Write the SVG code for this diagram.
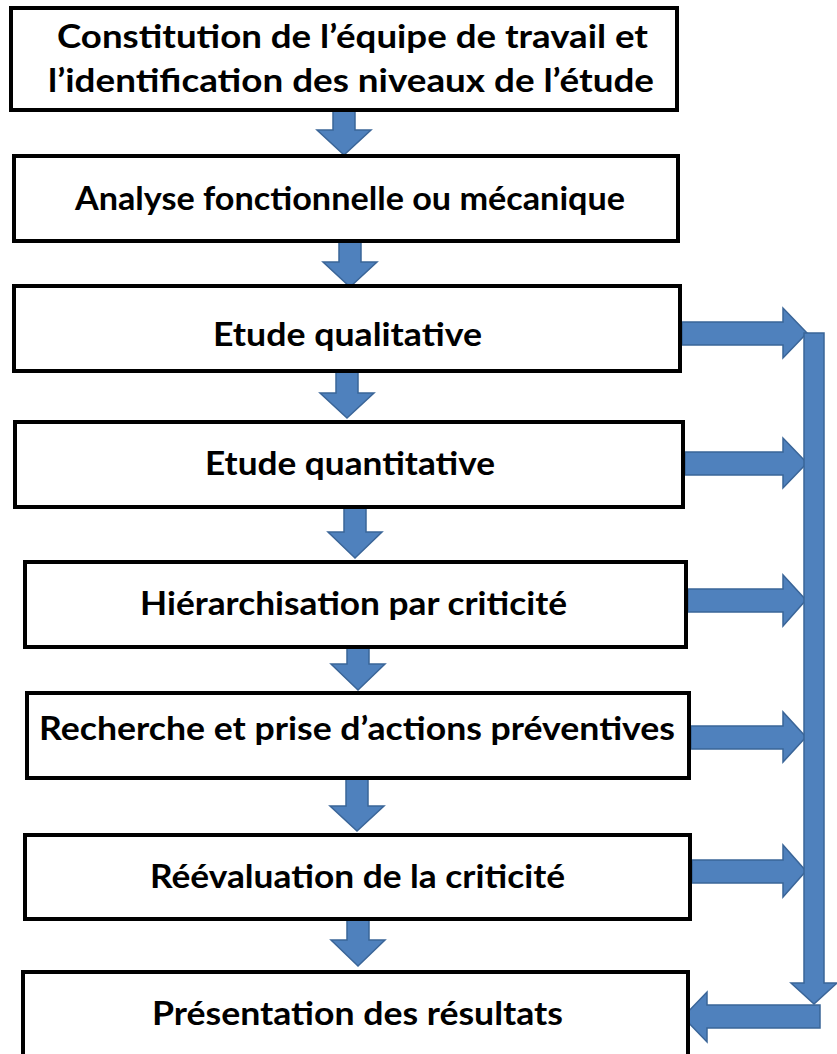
<svg xmlns="http://www.w3.org/2000/svg" width="837" height="1054" viewBox="0 0 837 1054">
<style>
.box{fill:#fff;stroke:#000;stroke-width:4}
.lbl{font-family:Lato,"Liberation Sans",sans-serif;font-weight:700;font-size:33px;fill:#000}
.arr{fill:#4F81BD;stroke:#3A6598;stroke-width:1.5;stroke-linejoin:miter}
</style>
<rect width="837" height="1054" fill="#fff"/>
<g id="connectors">
<path class="arr" d="M333,110 H355 V130 H371 L344,155 L317,130 H333 Z"/>
<path class="arr" d="M339,241 H361 V262 H377 L350,287 L323,262 H339 Z"/>
<path class="arr" d="M336,371 H358 V393 H374 L347,418 L320,393 H336 Z"/>
<path class="arr" d="M344,507 H366 V532 H382 L355,558 L328,532 H344 Z"/>
<path class="arr" d="M347,647 H369 V664 H385 L358,690 L331,664 H347 Z"/>
<path class="arr" d="M346,778 H368 V806 H384 L357,831 L330,806 H346 Z"/>
<path class="arr" d="M347,919 H369 V940 H385 L358,966 L331,940 H347 Z"/>
<path class="arr" d="M682,322 H783 V308 L807,333 L783,358 V345 H682 Z"/>
<path class="arr" d="M685,452 H783 V438 L807,463 L783,488 V475 H685 Z"/>
<path class="arr" d="M688,589 H783 V575 L806,600 L783,626 V612 H688 Z"/>
<path class="arr" d="M691,726 H783 V712 L806,737 L783,762 V749 H691 Z"/>
<path class="arr" d="M692,860 H783 V845 L806,871 L783,897 V883 H692 Z"/>
<path class="arr" d="M804,333 H824 V983 H837 L814,1004 L791,983 H804 Z"/>
<path class="arr" d="M820,1005 V1028 H707 V1042 L683,1017 L707,992 V1005 Z"/>
</g>
<g id="n1"><rect class="box" x="11" y="8" width="666" height="102"/>
<text class="lbl" x="57" y="48" textLength="591" lengthAdjust="spacingAndGlyphs">Constitution de l’équipe de travail et</text>
<text class="lbl" x="48" y="92" textLength="606" lengthAdjust="spacingAndGlyphs">l’identification des niveaux de l’étude</text></g>
<g id="n2"><rect class="box" x="14" y="156" width="664" height="85"/>
<text class="lbl" x="75" y="210" textLength="550" lengthAdjust="spacingAndGlyphs">Analyse fonctionnelle ou mécanique</text></g>
<g id="n3"><rect class="box" x="14" y="286" width="666" height="85"/>
<text class="lbl" x="213" y="346" textLength="269" lengthAdjust="spacingAndGlyphs">Etude qualitative</text></g>
<g id="n4"><rect class="box" x="15" y="422" width="668" height="85"/>
<text class="lbl" x="205" y="475" textLength="290" lengthAdjust="spacingAndGlyphs">Etude quantitative</text></g>
<g id="n5"><rect class="box" x="25" y="562" width="661" height="85"/>
<text class="lbl" x="140" y="615" textLength="427" lengthAdjust="spacingAndGlyphs">Hiérarchisation par criticité</text></g>
<g id="n6"><rect class="box" x="27" y="693" width="662" height="85"/>
<text class="lbl" x="39" y="740" textLength="636" lengthAdjust="spacingAndGlyphs">Recherche et prise d’actions préventives</text></g>
<g id="n7"><rect class="box" x="25" y="835" width="665" height="84"/>
<text class="lbl" x="150" y="888" textLength="415" lengthAdjust="spacingAndGlyphs">Réévaluation de la criticité</text></g>
<g id="n8"><rect class="box" x="23" y="972" width="665" height="90"/>
<text class="lbl" x="152" y="1025" textLength="411" lengthAdjust="spacingAndGlyphs">Présentation des résultats</text></g>
</svg>
